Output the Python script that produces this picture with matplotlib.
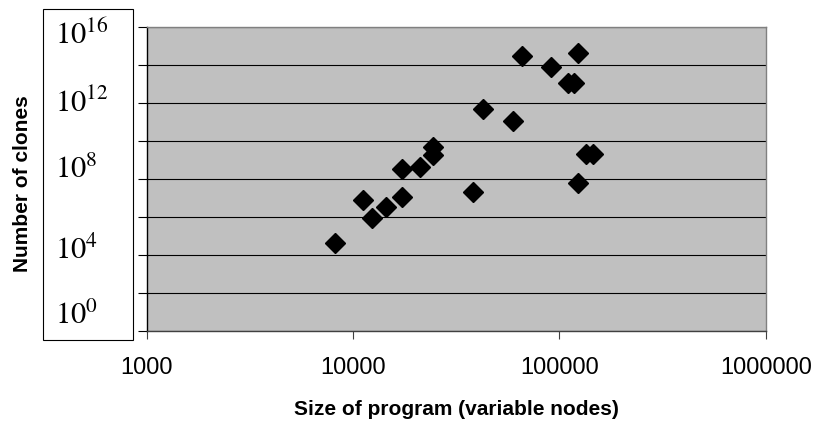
import matplotlib
matplotlib.use('Agg')
import matplotlib.pyplot as plt
from matplotlib.ticker import FixedLocator, NullLocator, NullFormatter
from matplotlib.patches import Rectangle

plt.rcParams['font.family'] = ['Liberation Sans', 'DejaVu Sans']
plt.rcParams['mathtext.fontset'] = 'stix'

# program size (variable nodes) vs number of clones
program_size = [8200, 11200, 12300, 14400, 17300, 17200, 21100, 24400, 24300,
                38200, 42500, 59700, 65600, 90700, 110000, 118000, 123000,
                134000, 145000, 123000]
num_clones = [4.1e4, 7.9e6, 8.5e5, 3.5e6, 1.1e7, 3.2e8, 4.1e8, 1.8e9, 4.7e9,
              2.0e7, 4.8e11, 1.1e11, 3.0e14, 7.6e13, 1.1e13, 1.1e13, 4.1e14,
              2.0e9, 2.0e9, 5.9e7]

x_ticks = [1000, 10000, 100000, 1000000]
y_grid = [10.0 ** e for e in range(0, 17, 2)]
y_box_labels = ['16', '12', '8', '4', '0']

W, H = 817, 426
fig = plt.figure(figsize=(W / 100, H / 100), dpi=100)
ax = fig.add_axes([147 / W, 95 / H, 618.7 / W, 304 / H])
ax.set_facecolor('#c0c0c0')

ax.set_xscale('log')
ax.set_yscale('log')
ax.set_xlim(1000, 1000000)
ax.set_ylim(1, 1e16)

ax.plot(program_size, num_clones, linestyle='none', marker='D',
        markersize=10, color='black', zorder=3)

# horizontal gridlines every two decades
ax.yaxis.set_major_locator(FixedLocator(y_grid))
ax.yaxis.set_minor_locator(NullLocator())
ax.yaxis.set_major_formatter(NullFormatter())
ax.grid(True, axis='y', color='black', linewidth=0.8)
ax.tick_params(axis='y', direction='out', length=6.5, width=0.8, color='black')

ax.xaxis.set_major_locator(FixedLocator(x_ticks))
ax.xaxis.set_minor_locator(NullLocator())
ax.set_xticklabels([str(v) for v in x_ticks], fontsize=17)
ax.tick_params(axis='x', direction='out', length=6, width=0.8, color='#404040', pad=12.5)

for side in ['top', 'right']:
    ax.spines[side].set_color('#808080')
ax.spines['bottom'].set_color('#404040')
ax.spines['left'].set_color('black')
for s in ax.spines.values():
    s.set_linewidth(1.0)

ax.set_xlabel('Size of program (variable nodes)', fontsize=15, fontweight='bold')
ax.xaxis.set_label_coords(0.5, -0.227)
fig.text(23 / W, 1 - 183.5 / H, 'Number of clones', fontsize=15, fontweight='bold',
         rotation=90, ha='center', va='center')

# boxed y labels drawn as a separate text box (as in the original)
fig.patches.append(Rectangle((43 / W, 1 - 340 / H), 90 / W, 331 / H,
                             transform=fig.transFigure, fill=False,
                             edgecolor='black', linewidth=0.8))
baselines = [44, 112, 178, 259, 324]
for lab, b in zip(y_box_labels, baselines):
    fig.text(55 / W, 1 - b / H, r'$10^{%s}$' % lab, fontsize=22,
             ha='left', va='baseline')

fig.savefig('out.png', dpi=100)
